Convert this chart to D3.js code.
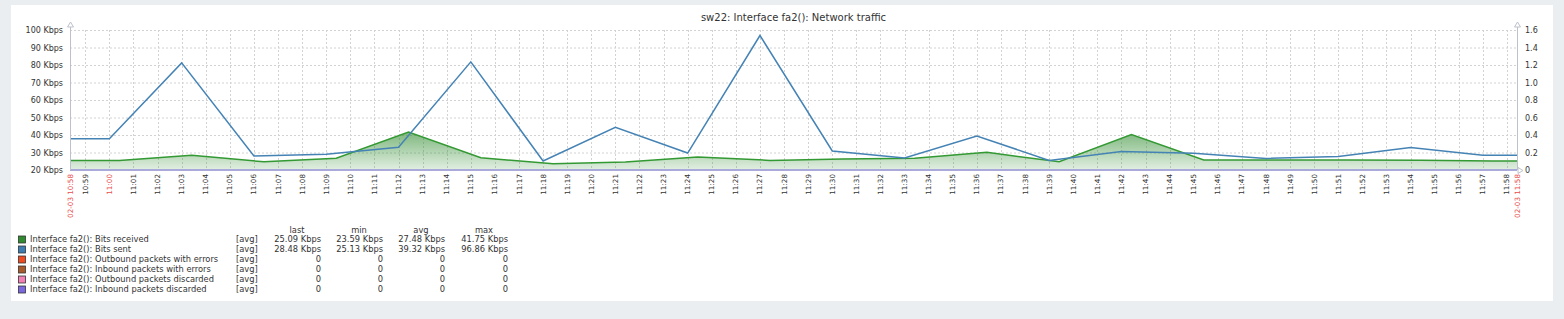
<!DOCTYPE html>
<html><head><meta charset="utf-8">
<script src="https://cdn.jsdelivr.net/npm/d3@7"></script>
<style>
html,body{margin:0;padding:0;background:#ebeef0;overflow:hidden;}
svg{display:block;font-family:"DejaVu Sans",sans-serif;}
</style></head><body>
<svg id="chart" width="1564" height="319"></svg>
<script>
// ---------- data ----------
const chartTitle = "sw22: Interface fa2(): Network traffic";
const timeRange = ["2024-02-03T10:58:22", "2024-02-03T11:58:25"];

const sentTimes = ["11:00:00","11:03:00","11:06:00","11:09:00","11:12:00","11:15:00","11:18:00","11:21:00","11:24:00","11:27:00",
                   "11:30:00","11:33:00","11:36:00","11:39:00","11:42:00","11:45:00","11:48:00","11:51:00","11:54:00","11:57:00"];
const sentValues = [37.8, 81.2, 28.0, 29.0, 33.0, 81.8, 25.13, 44.4, 29.7, 96.86,
                    30.9, 26.9, 39.4, 25.5, 30.5, 29.6, 26.6, 27.7, 32.8, 28.48];

const receivedTimes = ["11:00:25","11:03:25","11:06:25","11:09:25","11:12:25","11:15:25","11:18:25","11:21:25","11:24:25","11:27:25",
                       "11:30:25","11:33:25","11:36:25","11:39:25","11:42:25","11:45:25","11:48:25","11:51:25","11:54:25","11:57:25"];
const receivedValues = [25.5, 28.4, 24.7, 26.7, 41.75, 27.0, 23.59, 24.6, 27.4, 25.5,
                        26.3, 26.7, 30.1, 24.7, 40.2, 25.7, 25.7, 25.7, 25.6, 25.09];

const outErrValues  = [0,0,0,0,0,0,0,0,0,0,0,0,0,0,0,0,0,0,0,0];
const inErrValues   = [0,0,0,0,0,0,0,0,0,0,0,0,0,0,0,0,0,0,0,0];
const outDiscValues = [0,0,0,0,0,0,0,0,0,0,0,0,0,0,0,0,0,0,0,0];
const inDiscValues  = [0,0,0,0,0,0,0,0,0,0,0,0,0,0,0,0,0,0,0,0];

const leftTicks = [20, 30, 40, 50, 60, 70, 80, 90, 100];
const leftTickLabels = ["20 Kbps","30 Kbps","40 Kbps","50 Kbps","60 Kbps","70 Kbps","80 Kbps","90 Kbps","100 Kbps"];
const rightTicks = [0, 0.2, 0.4, 0.6, 0.8, 1.0, 1.2, 1.4, 1.6];
const rightTickLabels = ["0","0.2","0.4","0.6","0.8","1.0","1.2","1.4","1.6"];
const startLabel = "02-03 10:58";
const endLabel = "02-03 11:58";

const legendNames = ["Interface fa2(): Bits received","Interface fa2(): Bits sent","Interface fa2(): Outbound packets with errors",
                     "Interface fa2(): Inbound packets with errors","Interface fa2(): Outbound packets discarded","Interface fa2(): Inbound packets discarded"];
const legendColors = ["#2e8b2e","#3b7db3","#f04a1e","#a85a2a","#f37fb4","#7b68e0"];
const legendFunc = ["[avg]","[avg]","[avg]","[avg]","[avg]","[avg]"];
const legendHeaders = ["last","min","avg","max"];
const legendLast = ["25.09 Kbps","28.48 Kbps","0","0","0","0"];
const legendMin  = ["23.59 Kbps","25.13 Kbps","0","0","0","0"];
const legendAvg  = ["27.48 Kbps","39.32 Kbps","0","0","0","0"];
const legendMax  = ["41.75 Kbps","96.86 Kbps","0","0","0","0"];

// ---------- layout ----------
const W = 1564, H = 319;
const panel = {x: 11, y: 5, w: 1542, h: 296};
const plot = {l: 70, r: 1517, t: 30, b: 170};
const day = "2024-02-03T";
const parse = d3.isoParse;

const svg = d3.select("#chart");
svg.append("rect").attr("x",0).attr("y",0).attr("width",W).attr("height",H).attr("fill","#ebeef0");
svg.append("rect").attr("x",panel.x).attr("y",panel.y).attr("width",panel.w).attr("height",panel.h).attr("fill","#ffffff");

const x = d3.scaleTime().domain(timeRange.map(parse)).range([plot.l, plot.r]);
const yL = d3.scaleLinear().domain([20, 100]).range([plot.b, plot.t]);
const yR = d3.scaleLinear().domain([0, 1.6]).range([plot.b, plot.t]);

// title
svg.append("text").attr("x",(plot.l+plot.r)/2).attr("y",21).attr("text-anchor","middle")
  .attr("font-size","10px").attr("fill","#333").text(chartTitle);

// grid
const gridColor = "#d2d2d2";
const hGrid = svg.append("g");
leftTicks.forEach(v => {
  if (v === 20) return;
  hGrid.append("line").attr("x1",plot.l).attr("x2",plot.r).attr("y1",yL(v)+0.5).attr("y2",yL(v)+0.5)
    .attr("stroke",gridColor).attr("stroke-dasharray","2,2");
});
const minuteTicks = x.ticks(d3.timeMinute.every(1));
minuteTicks.forEach(t => {
  const px = Math.round(x(t)) + 0.5;
  hGrid.append("line").attr("x1",px).attr("x2",px).attr("y1",plot.t).attr("y2",plot.b)
    .attr("stroke",gridColor).attr("stroke-dasharray","2,2");
});

// series helpers: extend first/last value to the edges of the time range
function series(times, values, scale) {
  const pts = times.map((t,i) => [x(parse(day+t)), scale(values[i])]);
  return [[plot.l, pts[0][1]], ...pts, [plot.r, pts[pts.length-1][1]]];
}

// gradient for received area
const defs = svg.append("defs");
const grad = defs.append("linearGradient").attr("id","gRecv").attr("x1",0).attr("x2",0).attr("y1",0).attr("y2",1);
grad.append("stop").attr("offset","0%").attr("stop-color",legendColors[0]).attr("stop-opacity",0.62);
grad.append("stop").attr("offset","100%").attr("stop-color",legendColors[0]).attr("stop-opacity",0.14);

const recvPts = series(receivedTimes, receivedValues, yL);
const area = d3.area().x(d=>d[0]).y0(plot.b).y1(d=>d[1]);
const line = d3.line().x(d=>d[0]).y(d=>d[1]);
svg.append("path").attr("d",area(recvPts)).attr("fill","url(#gRecv)");
svg.append("path").attr("d",line(recvPts)).attr("fill","none").attr("stroke","#339933").attr("stroke-width",1.5);

const sentPts = series(sentTimes, sentValues, yL);
svg.append("path").attr("d",line(sentPts)).attr("fill","none").attr("stroke","#4583b5").attr("stroke-width",1.5);

// packet series on right axis
[outErrValues, inErrValues, outDiscValues, inDiscValues].forEach((vals,i) => {
  const pts = series(sentTimes, vals, yR);
  svg.append("path").attr("d",line(pts)).attr("fill","none").attr("stroke",legendColors[2+i])
    .attr("stroke-width",2).attr("stroke-opacity", i===3 ? 0.5 : 1);
});
// lighten bottom line
svg.append("line").attr("x1",plot.l).attr("x2",plot.r).attr("y1",plot.b).attr("y2",plot.b)
  .attr("stroke","#a9a9da").attr("stroke-width",2);

// axes lines
const axisColor = "#bcc1cc";
svg.append("line").attr("x1",plot.l+0.5).attr("x2",plot.l+0.5).attr("y1",plot.t-5).attr("y2",plot.b).attr("stroke",axisColor);
svg.append("line").attr("x1",plot.r+0.5).attr("x2",plot.r+0.5).attr("y1",plot.t-5).attr("y2",plot.b).attr("stroke",axisColor);
function upArrow(cx, cy){
  svg.append("path").attr("d",`M${cx-2.5},${cy+3}L${cx+0.5},${cy-2}L${cx+3.5},${cy+3}Z`)
    .attr("fill","#fff").attr("stroke",axisColor).attr("stroke-width",1);
}
upArrow(plot.l, plot.t-6);
upArrow(plot.r, plot.t-6);
svg.append("path").attr("d",`M${plot.r+1},${plot.b-2.5}L${plot.r+6},${plot.b+0.5}L${plot.r+1},${plot.b+3.5}Z`)
  .attr("fill","#fff").attr("stroke",axisColor);

// left axis
const gL = svg.append("g").attr("transform",`translate(${plot.l-7},0)`);
gL.call(d3.axisLeft(yL).tickValues(leftTicks).tickFormat((d,i)=>leftTickLabels[i]).tickSize(0).tickPadding(0));
gL.select(".domain").remove();
gL.selectAll("text").attr("font-family","DejaVu Sans").attr("font-size","8px").attr("fill","#333");

// right axis
const gR = svg.append("g").attr("transform",`translate(${plot.r+8},0)`);
gR.call(d3.axisRight(yR).tickValues(rightTicks).tickFormat((d,i)=>rightTickLabels[i]).tickSize(0).tickPadding(0));
gR.select(".domain").remove();
gR.selectAll("text").attr("font-family","DejaVu Sans").attr("font-size","8px").attr("fill","#333");

// x axis labels
const xl = svg.append("g").attr("font-size","7.2px");
const fmt = d3.timeFormat("%H:%M");
minuteTicks.forEach(t => {
  const px = x(t);
  if (px < plot.l + 8) return;
  const red = t.getMinutes() === 0;
  xl.append("text").attr("transform",`translate(${px},174) rotate(-90)`).attr("text-anchor","end")
    .attr("dy","0.35em").attr("fill", red ? "#e84b4b" : "#333").text(fmt(t));
});
xl.append("text").attr("transform",`translate(${plot.l},174) rotate(-90)`).attr("text-anchor","end")
  .attr("dy","0.35em").attr("fill","#e84b4b").text(startLabel);
xl.append("text").attr("transform",`translate(${plot.r},174) rotate(-90)`).attr("text-anchor","end")
  .attr("dy","0.35em").attr("fill","#e84b4b").text(endLabel);

// legend
const lg = svg.append("g").attr("font-size","8.3px").attr("fill","#333");
const colRight = [321, 383, 445, 508];
const headerY = 230;
const rowY0 = 239.5, rowStep = 10;
legendHeaders.forEach((h,i) => {
  lg.append("text").attr("x",colRight[i]-24).attr("y",headerY).attr("dy","0.35em").attr("text-anchor","middle").text(h);
});
legendNames.forEach((n,i) => {
  const cy = rowY0 + i*rowStep;
  lg.append("rect").attr("x",18.5).attr("y",cy-3.5).attr("width",7).attr("height",7)
    .attr("fill",legendColors[i]).attr("stroke","#333").attr("stroke-width",0.8);
  lg.append("text").attr("x",30).attr("y",cy).attr("dy","0.35em").text(n);
  lg.append("text").attr("x",236).attr("y",cy).attr("dy","0.35em").text(legendFunc[i]);
  [legendLast, legendMin, legendAvg, legendMax].forEach((arr,j) => {
    lg.append("text").attr("x",colRight[j]).attr("y",cy).attr("dy","0.35em").attr("text-anchor","end").text(arr[i]);
  });
});
</script>
</body></html>
